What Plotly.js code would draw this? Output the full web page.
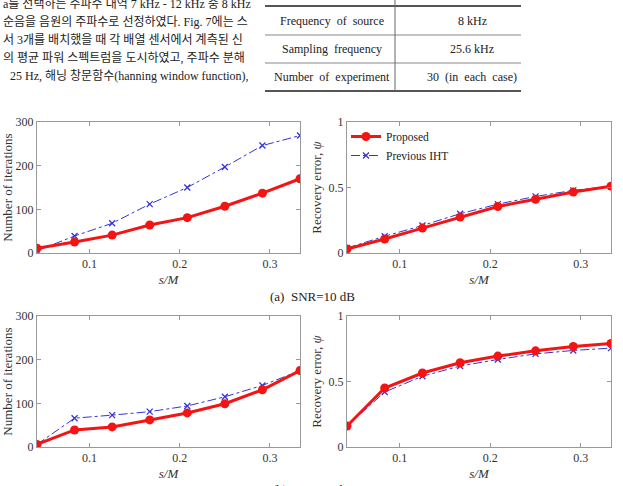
<!DOCTYPE html>
<html>
<head>
<meta charset="utf-8">
<script src="https://cdn.plot.ly/plotly-3.0.1.min.js"></script>
<style>
  html, body { margin: 0; padding: 0; background: #fff; }
  #chart { width: 623px; height: 486px; }
</style>
</head>
<body>
<div id="chart"></div>
<script>
// Sparsity ratio s/M (s = 1..8, M = 24)
const sRatio = [1/24, 2/24, 3/24, 4/24, 5/24, 6/24, 7/24, 8/24];

// (a) SNR = 10 dB
const iterProposed10 = [11, 25, 41, 64, 81, 107, 137, 170];
const iterPrevious10 = [5, 39, 68, 112, 150, 197, 246, 269];
const errProposed10  = [0.03, 0.107, 0.19, 0.274, 0.355, 0.41, 0.465, 0.51];
const errPrevious10  = [0.038, 0.128, 0.21, 0.30, 0.373, 0.432, 0.478, 0.51];

// (b) SNR = 0 dB
const iterProposed0 = [6, 39, 46, 62, 78, 99, 131, 175];
const iterPrevious0 = [6, 66, 73, 81, 94, 115, 141, 175];
const errProposed0  = [0.16, 0.45, 0.565, 0.643, 0.694, 0.734, 0.767, 0.79];
const errPrevious0  = [0.16, 0.42, 0.54, 0.618, 0.668, 0.711, 0.737, 0.755];

const seriesNames = ['Proposed', 'Previous IHT'];
const captions = ['(a)  SNR=10 dB', '(b)  SNR=0 dB'];

// Experiment conditions table
const tableLabels = ['Frequency  of  source', 'Sampling  frequency', 'Number  of  experiment'];
const tableValues = ['8 kHz', '25.6 kHz', '30  (in  each  case)'];

// Body text column beside the table
const bodyLines = [
  'a를 선택하는 주파수 대역 7 kHz - 12 kHz 중 8 kHz',
  '순음을 음원의 주파수로 선정하였다. Fig. 7에는 스',
  '서 3개를 배치했을 때 각 배열 센서에서 계측된 신',
  '의 평균 파워 스펙트럼을 도시하였고, 주파수 분해',
  '25 Hz, 해닝 창문함수(hanning window function),'
];

const W = 623, H = 486;
const px = v => v / W;
const py = v => 1 - v / H;

const SERIF = '"Liberation Serif", "Times New Roman", "Noto Sans CJK KR", serif';
const RED = '#f41414';
const BLUE = '#3434d8';

function proposedTrace(y, xa, ya, show) {
  return {
    x: sRatio, y: y, xaxis: xa, yaxis: ya, name: seriesNames[0],
    mode: 'lines+markers', showlegend: show, legendgroup: 'p',
    line: { color: RED, width: 3 },
    marker: { symbol: 'circle', size: 9, color: RED }
  };
}
function previousTrace(y, xa, ya, show) {
  return {
    x: sRatio, y: y, xaxis: xa, yaxis: ya, name: seriesNames[1],
    mode: 'lines+markers', showlegend: show, legendgroup: 'q',
    line: { color: BLUE, width: 1, dash: 'dashdot' },
    marker: { symbol: 'x-thin', size: 6, color: BLUE, line: { color: BLUE, width: 1.3 } }
  };
}

const data = [
  previousTrace(iterPrevious10, 'x', 'y', false),
  proposedTrace(iterProposed10, 'x', 'y', false),
  previousTrace(errPrevious10, 'x2', 'y2', true),
  proposedTrace(errProposed10, 'x2', 'y2', true),
  previousTrace(iterPrevious0, 'x3', 'y3', false),
  proposedTrace(iterProposed0, 'x3', 'y3', false),
  previousTrace(errPrevious0, 'x4', 'y4', false),
  proposedTrace(errProposed0, 'x4', 'y4', false)
];

const tickFont = { family: SERIF, size: 12, color: '#333' };
const titleFont = { family: SERIF, size: 13, color: '#333' };

function xAxis(domain, anchor) {
  return {
    domain: domain, anchor: anchor, range: [1/24, 8/24],
    tickvals: [0.1, 0.2, 0.3], ticktext: ['0.1', '0.2', '0.3'],
    ticks: 'inside', ticklen: 4, tickcolor: '#999',
    showline: true, mirror: 'ticks', linecolor: '#999', linewidth: 1,
    showgrid: false, zeroline: false, automargin: false,
    tickfont: tickFont,
    title: { text: '<i>s/M</i>', font: titleFont, standoff: 4 }
  };
}
function yAxis(domain, anchor, kind) {
  const iter = kind === 'iter';
  return {
    domain: domain, anchor: anchor,
    range: iter ? [0, 300] : [0, 1],
    tickvals: iter ? [0, 100, 200, 300] : [0, 0.5, 1],
    ticktext: iter ? ['0', '100', '200', '300'] : ['0', '0.5', '1'],
    ticks: 'inside', ticklen: 4, tickcolor: '#999',
    showline: true, mirror: 'ticks', linecolor: '#999', linewidth: 1,
    showgrid: false, zeroline: false, automargin: false,
    tickfont: tickFont,
    title: {
      text: iter ? 'Number of iterations' : 'Recovery error, <i>ψ</i>',
      font: titleFont, standoff: 4
    }
  };
}

const xLeft = [px(37), px(300)];
const xRight = [px(347), px(611)];
const yTop = [py(253), py(122)];
const yBot = [py(447), py(316)];

const annotations = [];
const shapes = [];

// Body text
bodyLines.forEach((t, i) => {
  annotations.push({
    xref: 'paper', yref: 'paper', x: px(i === 4 ? 8 : 1), y: py(4 + 18 * i),
    xanchor: 'left', yanchor: 'middle', showarrow: false,
    text: t, font: { family: SERIF, size: 12, color: '#222' }
  });
});

// Table rules and cells
const tL = 265, tR = 521, tMid = 395;
const rowLines = [6, 35, 63, 91];
rowLines.forEach((yy, i) => {
  const thick = (i === 0 || i === rowLines.length - 1);
  shapes.push({
    type: 'line', xref: 'paper', yref: 'paper',
    x0: px(tL), x1: px(tR), y0: py(yy), y1: py(yy),
    line: { color: thick ? '#555' : '#888', width: thick ? 2 : 1 }
  });
});
shapes.push({
  type: 'line', xref: 'paper', yref: 'paper',
  x0: px(tMid), x1: px(tMid), y0: py(0), y1: py(91),
  line: { color: '#666', width: 1 }
});
tableLabels.forEach((t, i) => {
  const yc = (rowLines[i] + rowLines[i + 1]) / 2;
  annotations.push({
    xref: 'paper', yref: 'paper', x: px((tL + tMid) / 2 + 2), y: py(yc),
    xanchor: 'center', yanchor: 'middle', showarrow: false,
    text: t, font: { family: SERIF, size: 12, color: '#222' }
  });
  annotations.push({
    xref: 'paper', yref: 'paper', x: px((tMid + tR) / 2 + 14), y: py(yc),
    xanchor: 'center', yanchor: 'middle', showarrow: false,
    text: tableValues[i], font: { family: SERIF, size: 12, color: '#222' }
  });
});

// Sub-figure captions
annotations.push({
  xref: 'paper', yref: 'paper', x: px(312), y: py(296),
  xanchor: 'center', yanchor: 'middle', showarrow: false,
  text: captions[0], font: { family: SERIF, size: 13, color: '#222' }
});
annotations.push({
  xref: 'paper', yref: 'paper', x: px(312), y: py(489),
  xanchor: 'center', yanchor: 'middle', showarrow: false,
  text: captions[1], font: { family: SERIF, size: 13, color: '#222' }
});

const layout = {
  width: W, height: H,
  margin: { l: 0, r: 0, t: 0, b: 0, pad: 0 },
  paper_bgcolor: '#fff', plot_bgcolor: '#fff',
  font: { family: SERIF, color: '#333' },
  xaxis: xAxis(xLeft, 'y'),
  yaxis: yAxis(yTop, 'x', 'iter'),
  xaxis2: xAxis(xRight, 'y2'),
  yaxis2: yAxis(yTop, 'x2', 'err'),
  xaxis3: xAxis(xLeft, 'y3'),
  yaxis3: yAxis(yBot, 'x3', 'iter'),
  xaxis4: xAxis(xRight, 'y4'),
  yaxis4: yAxis(yBot, 'x4', 'err'),
  showlegend: true,
  legend: {
    x: px(346), y: py(122), xanchor: 'left', yanchor: 'top',
    bgcolor: 'rgba(0,0,0,0)', borderwidth: 0,
    font: { family: SERIF, size: 11.5, color: '#222' },
    traceorder: 'reversed', tracegroupgap: 0, itemwidth: 30
  },
  annotations: annotations,
  shapes: shapes
};

Plotly.newPlot('chart', data, layout, { staticPlot: true, displayModeBar: false });
</script>
</body>
</html>
